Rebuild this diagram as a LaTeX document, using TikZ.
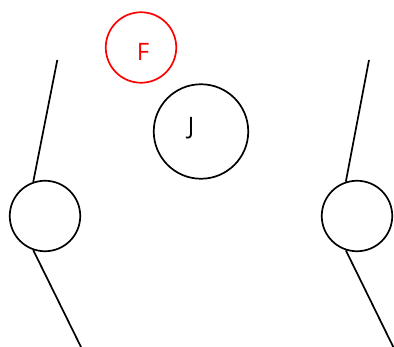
\documentclass[tikz,border=0pt]{standalone}
\usepackage{fontspec}
\setmainfont{Open Sans}
\begin{document}
\begin{tikzpicture}[x=1pt,y=-1pt,
  ring/.style={draw=black,circle,line width=1.7pt,inner sep=0pt,minimum size=#1},
  lbl/.style={font=\fontsize{24}{26}\selectfont,inner sep=0pt},
  wire/.style={draw=black,line width=1.7pt}]
\useasboundingbox (0,0) rectangle (394,347);
\node[ring=70.5pt,draw=red] (F) at (141,47.5) {};
\node[lbl,text=red] (Ft) at (143,51.5) {F};
\node[ring=94.5pt] (J) at (201,131.5) {};
\node[lbl] (Jt) at (191,128) {J};
\node[ring=70.5pt] (L) at (45,216) {};
\node[ring=70.5pt] (R) at (357,216) {};
\coordinate (L1) at (57.3,60);
\coordinate (L2) at (81,347);
\coordinate (R1) at (369,60);
\coordinate (R2) at (393.3,347);
\draw[wire] (L1) -- (L.109);
\draw[wire] (L.251) -- (L2);
\draw[wire] (R1) -- (R.108);
\draw[wire] (R.252) -- (R2);
\end{tikzpicture}
\end{document}
